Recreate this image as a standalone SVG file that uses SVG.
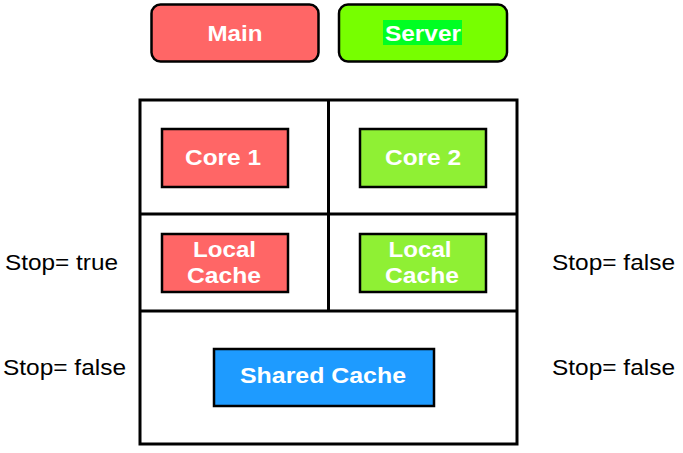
<svg xmlns="http://www.w3.org/2000/svg" width="683" height="453" viewBox="0 0 683 453">
<style>
.box{stroke:#000;stroke-width:2.5}
.frame{fill:none;stroke:#000;stroke-width:3}
.lbl{font-family:"Liberation Sans",Arial,sans-serif;font-weight:bold;font-size:22px;fill:#fff;text-anchor:middle}
.side{font-family:"Liberation Sans",Arial,sans-serif;font-size:22px;fill:#000}
.red{fill:#FF6666}
.grn{fill:#8FF034}
</style>
<rect width="683" height="453" fill="#fff"/>
<g id="main">
<rect class="box red" x="151.5" y="4.5" width="167" height="57" rx="9"/>
<text class="lbl" x="235" y="41" textLength="55" lengthAdjust="spacingAndGlyphs">Main</text>
</g>
<g id="server">
<rect class="box" fill="#77FF00" x="339" y="4.5" width="168" height="57" rx="9"/>
<rect fill="#00FF22" x="383" y="20" width="79" height="25"/>
<text class="lbl" x="423" y="41" textLength="76" lengthAdjust="spacingAndGlyphs">Server</text>
</g>
<g id="frame">
<rect class="frame" x="140" y="100" width="377" height="344"/>
<line class="frame" x1="328.5" y1="100" x2="328.5" y2="311"/>
<line class="frame" x1="140" y1="214" x2="517" y2="214"/>
<line class="frame" x1="140" y1="311" x2="517" y2="311"/>
</g>
<g id="core1">
<rect class="box red" x="162" y="129" width="126" height="58"/>
<text class="lbl" x="223" y="165" textLength="76" lengthAdjust="spacingAndGlyphs">Core 1</text>
</g>
<g id="core2">
<rect class="box grn" x="360" y="129" width="126" height="58"/>
<text class="lbl" x="423" y="165" textLength="76" lengthAdjust="spacingAndGlyphs">Core 2</text>
</g>
<g id="local1">
<rect class="box red" x="162" y="234" width="126" height="58"/>
<text class="lbl" x="224.5" y="257" textLength="63" lengthAdjust="spacingAndGlyphs">Local</text>
<text class="lbl" x="224" y="283" textLength="74" lengthAdjust="spacingAndGlyphs">Cache</text>
</g>
<g id="local2">
<rect class="box grn" x="360" y="234" width="126" height="58"/>
<text class="lbl" x="420" y="257" textLength="63" lengthAdjust="spacingAndGlyphs">Local</text>
<text class="lbl" x="422" y="283" textLength="74" lengthAdjust="spacingAndGlyphs">Cache</text>
</g>
<g id="shared">
<rect class="box" fill="#1E9BFF" x="214" y="349" width="220" height="57"/>
<text class="lbl" x="323" y="383" textLength="166" lengthAdjust="spacingAndGlyphs">Shared Cache</text>
</g>
<g id="labels">
<text class="side" x="5" y="270" textLength="113" lengthAdjust="spacingAndGlyphs">Stop= true</text>
<text class="side" x="3" y="375" textLength="123" lengthAdjust="spacingAndGlyphs">Stop= false</text>
<text class="side" x="552" y="270" textLength="123" lengthAdjust="spacingAndGlyphs">Stop= false</text>
<text class="side" x="552" y="375" textLength="123" lengthAdjust="spacingAndGlyphs">Stop= false</text>
</g>
<g id="connectors"></g>
</svg>
